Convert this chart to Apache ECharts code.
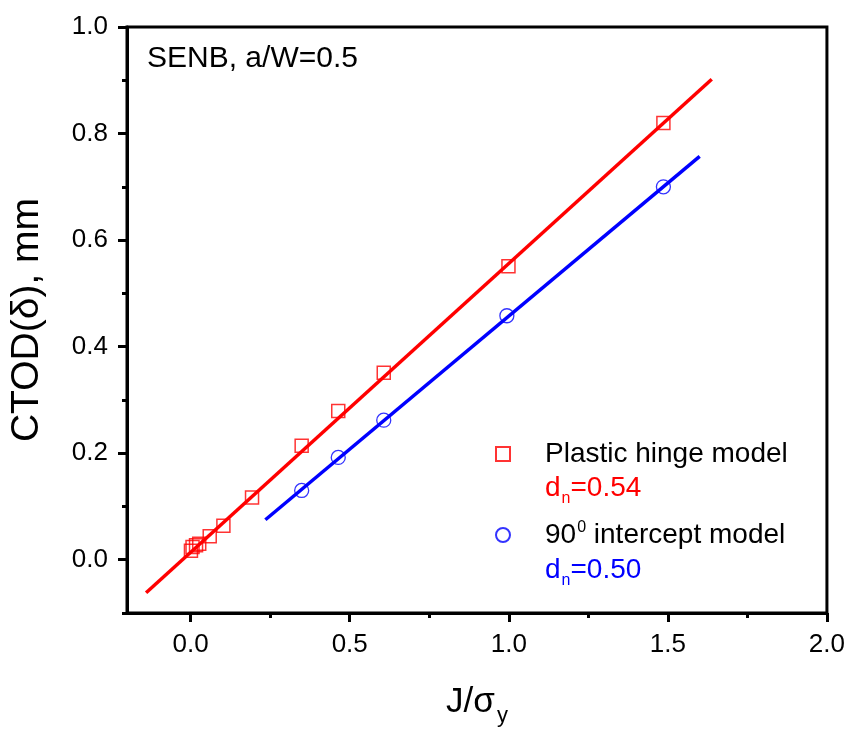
<!DOCTYPE html>
<html>
<head>
<meta charset="utf-8">
<script src="https://cdn.jsdelivr.net/npm/echarts@6/dist/echarts.min.js"></script>
<style>html,body{margin:0;padding:0;background:#fff}#c{width:848px;height:733px}</style>
</head>
<body>
<div id="c"></div>
<script>
// ---- data ----
var plasticX = [0.001, 0.006, 0.017, 0.027, 0.060, 0.103, 0.193, 0.349, 0.464, 0.607, 0.999, 1.486];
var plasticY = [0.017, 0.024, 0.027, 0.030, 0.044, 0.064, 0.117, 0.214, 0.279, 0.351, 0.551, 0.820];
var interceptX = [0.349, 0.464, 0.607, 0.994, 1.486];
var interceptY = [0.130, 0.192, 0.262, 0.458, 0.700];
var plasticFitX = [-0.14, 1.638];
var plasticFitY = [-0.062, 0.902];
var interceptFitX = [0.235, 1.600];
var interceptFitY = [0.075, 0.757];
var xMajorTicks = [0.0, 0.5, 1.0, 1.5, 2.0];
var xMinorTicks = [0.25, 0.75, 1.25, 1.75];
var yMajorTicks = [0.0, 0.2, 0.4, 0.6, 0.8, 1.0];
var yMinorTicks = [-0.1, 0.1, 0.3, 0.5, 0.7, 0.9];
var seriesNames = ['Plastic hinge model', '90° intercept model'];
var dnLabels = ['0.54', '0.50'];

function zip(a, b) { return a.map(function (v, i) { return [v, b[i]]; }); }

var FONT = '"Liberation Sans", Arial, sans-serif';
var RED = '#ff0000', BLUE = '#0000ff';

var chart = echarts.init(document.getElementById('c'));
chart.setOption({
  backgroundColor: '#fff',
  animation: false,
  textStyle: { fontFamily: FONT },
  grid: { left: 125, right: 19, top: 27, bottom: 120, show: true, borderColor: '#000', borderWidth: 3, backgroundColor: '#fff' },
  xAxis: [{
    type: 'value', min: -0.2, max: 2.0, position: 'bottom',
    axisLine: { show: true, onZero: false, lineStyle: { color: '#000', width: 3 } },
    axisTick: { show: true, inside: false, length: 9, lineStyle: { color: '#000', width: 3 }, customValues: xMajorTicks },
    axisLabel: { show: true, customValues: xMajorTicks, margin: 19, fontSize: 26, color: '#000', fontFamily: FONT,
      formatter: function (v) { return v.toFixed(1); } },
    splitLine: { show: false },
    name: '{m|J/σ}{s|y}', nameLocation: 'middle', nameGap: 64,
    nameTextStyle: { color: '#000', fontFamily: FONT, rich: {
      m: { fontSize: 35, color: '#000', fontFamily: FONT, lineHeight: 40 },
      s: { fontSize: 22, color: '#000', fontFamily: FONT, padding: [28, 0, 0, 2] }
    } }
  }, {
    type: 'value', min: -0.2, max: 2.0, position: 'bottom',
    axisLine: { show: false, onZero: false },
    axisTick: { show: true, inside: false, length: 5, lineStyle: { color: '#000', width: 3 }, customValues: xMinorTicks },
    axisLabel: { show: false },
    splitLine: { show: false }
  }],
  yAxis: [{
    type: 'value', min: -0.1, max: 1.0, position: 'left',
    axisLine: { show: true, onZero: false, lineStyle: { color: '#000', width: 3 } },
    axisTick: { show: true, inside: false, length: 9, lineStyle: { color: '#000', width: 3 }, customValues: yMajorTicks },
    axisLabel: { show: true, customValues: yMajorTicks, margin: 19, fontSize: 26, color: '#000', fontFamily: FONT,
      formatter: function (v) { return v.toFixed(1); } },
    splitLine: { show: false },
    name: 'CTOD(δ), mm', nameLocation: 'middle', nameRotate: 90, nameGap: 80,
    nameTextStyle: { fontSize: 39, color: '#000', fontFamily: FONT }
  }, {
    type: 'value', min: -0.1, max: 1.0, position: 'left',
    axisLine: { show: false, onZero: false },
    axisTick: { show: true, inside: false, length: 5, lineStyle: { color: '#000', width: 3 }, customValues: yMinorTicks },
    axisLabel: { show: false },
    splitLine: { show: false }
  }],
  legend: {
    orient: 'vertical', left: 490, top: 435, itemWidth: 14, itemHeight: 14, itemGap: 52,
    data: seriesNames,
    formatter: function (name) {
      if (name === seriesNames[1]) return '{t|90}{u|0}{t| intercept model}';
      return '{t|' + name + '}';
    },
    textStyle: { color: '#000', fontFamily: FONT, padding: [0, 0, 0, 30], rich: {
      t: { fontSize: 28, color: '#000', fontFamily: FONT, lineHeight: 30 },
      u: { fontSize: 16, color: '#000', fontFamily: FONT, verticalAlign: 'top', padding: [0, 0, 14, 1] }
    } }
  },
  graphic: [
    { type: 'text', left: 147, top: 44, style: { text: 'SENB, a/W=0.5', fontSize: 30, fill: '#000', fontFamily: FONT } },
    { type: 'text', left: 545, top: 474, style: { text: '{d|d}{s|n}{d|=' + dnLabels[0] + '}', rich: {
      d: { fontSize: 28, fill: RED, fontFamily: FONT, lineHeight: 30 },
      s: { fontSize: 16, fill: RED, fontFamily: FONT, padding: [22, 0, 0, 1] } } } },
    { type: 'text', left: 545, top: 556, style: { text: '{d|d}{s|n}{d|=' + dnLabels[1] + '}', rich: {
      d: { fontSize: 28, fill: BLUE, fontFamily: FONT, lineHeight: 30 },
      s: { fontSize: 16, fill: BLUE, fontFamily: FONT, padding: [22, 0, 0, 1] } } } }
  ],
  series: [
    { name: seriesNames[0], type: 'scatter', xAxisIndex: 0, yAxisIndex: 0, symbol: 'rect', symbolSize: 13, z: 2,
      itemStyle: { color: 'rgba(255,255,255,0)', borderColor: RED, borderWidth: 1.5 },
      data: zip(plasticX, plasticY) },
    { name: seriesNames[1], type: 'scatter', xAxisIndex: 0, yAxisIndex: 0, symbol: 'circle', symbolSize: 14, z: 2,
      itemStyle: { color: 'rgba(255,255,255,0)', borderColor: BLUE, borderWidth: 1.3 },
      data: zip(interceptX, interceptY) },
    { name: 'Plastic fit', type: 'line', xAxisIndex: 0, yAxisIndex: 0, showSymbol: false, symbol: 'none', z: 3,
      lineStyle: { color: RED, width: 3.5 }, data: zip(plasticFitX, plasticFitY) },
    { name: 'Intercept fit', type: 'line', xAxisIndex: 0, yAxisIndex: 0, showSymbol: false, symbol: 'none', z: 3,
      lineStyle: { color: BLUE, width: 3.5 }, data: zip(interceptFitX, interceptFitY) }
  ]
});
</script>
</body>
</html>
